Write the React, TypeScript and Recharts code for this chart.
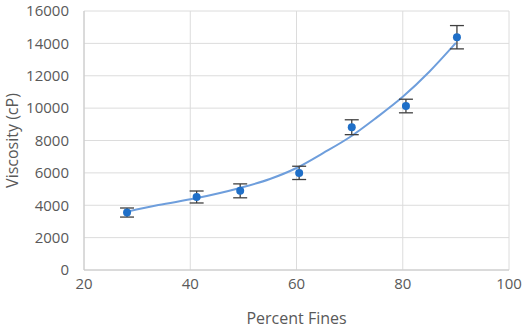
import {
  ComposedChart,
  Scatter,
  Line,
  XAxis,
  YAxis,
  CartesianGrid,
  ErrorBar,
} from "recharts";

const percentFines = [28.1, 41.2, 49.4, 60.5, 70.4, 80.6, 90.2];
const viscosity = [3550, 4510, 4890, 6000, 8820, 10130, 14380];
const viscosityErr = [280, 370, 430, 410, 460, 420, 720];

const trendFines = [28, 34, 41, 49, 55, 60, 65, 70, 75, 80, 85, 90];
const trendViscosity = [3590, 4010, 4430, 5040, 5620, 6300, 7220, 8200, 9400, 10700, 12250, 14030];

const xTicks = [20, 40, 60, 80, 100];
const yTicks = [0, 2000, 4000, 6000, 8000, 10000, 12000, 14000, 16000];

const points = percentFines.map((x, i) => ({ x, y: viscosity[i], err: viscosityErr[i] }));
const trend = trendFines.map((x, i) => ({ x, y: trendViscosity[i] }));

const textColor = "#595959";
const font = "'Open Sans', sans-serif";

const Dot = (props: any) => (
  <circle cx={props.cx} cy={props.cy} r={4} fill="#1F6FC8" />
);

const App: React.FC = () => (
  <div style={{ position: "absolute", left: 0, top: 0 }}>
    <ComposedChart
      width={526}
      height={330}
      margin={{ top: 11, right: 17, left: 0, bottom: 0 }}
      style={{ fontFamily: font }}
    >
      <CartesianGrid stroke="#DCDCDC" strokeWidth={1} />
      <XAxis
        type="number"
        dataKey="x"
        domain={[20, 100]}
        ticks={xTicks}
        height={60}
        tickLine={false}
        axisLine={{ stroke: "#C8C8C8" }}
        tick={{ fill: textColor, fontSize: 15 }}
        tickMargin={2}
        label={{
          value: "Percent Fines",
          position: "insideBottom",
          offset: 6,
          fill: textColor,
          fontSize: 16,
        }}
      />
      <YAxis
        type="number"
        domain={[0, 16000]}
        ticks={yTicks}
        width={84}
        tickLine={false}
        axisLine={{ stroke: "#C8C8C8" }}
        tick={{ fill: textColor, fontSize: 15 }}
        tickMargin={9}
        label={{
          value: "Viscosity (cP)",
          angle: -90,
          position: "insideLeft",
          offset: 12,
          fill: textColor,
          fontSize: 16,
          style: { textAnchor: "middle" },
        }}
      />
      <Line
        data={trend}
        dataKey="y"
        type="monotone"
        stroke="#6E9EDC"
        strokeWidth={2}
        dot={false}
        isAnimationActive={false}
      />
      <Scatter data={points} dataKey="y" shape={Dot} isAnimationActive={false}>
        <ErrorBar dataKey="err" direction="y" width={7} stroke="#404040" strokeWidth={1.3} />
      </Scatter>
    </ComposedChart>
  </div>
);

export default App;
